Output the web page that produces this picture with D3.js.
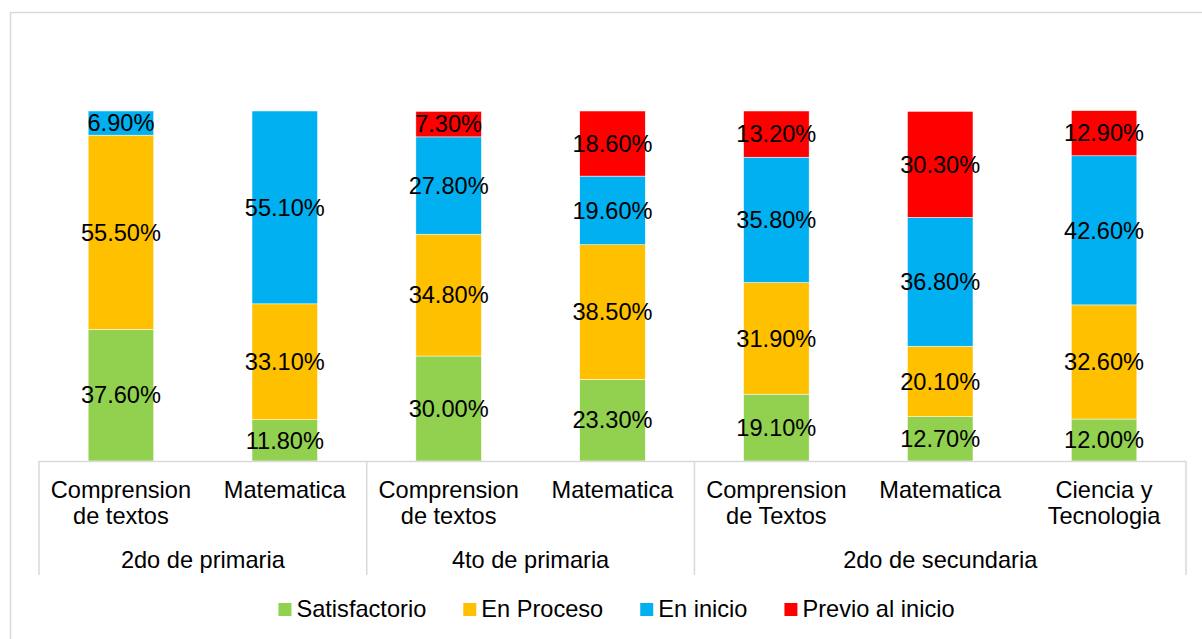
<!DOCTYPE html>
<html>
<head>
<meta charset="utf-8">
<script src="https://cdn.jsdelivr.net/npm/d3@7"></script>
<style>
  body { margin: 0; background: #fff; }
  text { font-family: "Liberation Sans", Arial, sans-serif; fill: #000; }
</style>
</head>
<body>
<div id="chart"></div>
<script>
// data
var groups = ["2do de primaria", "4to de primaria", "2do de secundaria"];
var groupSize = [2, 2, 3];
var categories = [
  ["Comprension", "de textos"],
  ["Matematica"],
  ["Comprension", "de textos"],
  ["Matematica"],
  ["Comprension", "de Textos"],
  ["Matematica"],
  ["Ciencia y", "Tecnologia"]
];
var seriesNames = ["Satisfactorio", "En Proceso", "En inicio", "Previo al inicio"];
var satisfactorio = [37.6, 11.8, 30.0, 23.3, 19.1, 12.7, 12.0];
var enProceso     = [55.5, 33.1, 34.8, 38.5, 31.9, 20.1, 32.6];
var enInicio      = [6.9, 55.1, 27.8, 19.6, 35.8, 36.8, 42.6];
var previo        = [0, 0, 7.3, 18.6, 13.2, 30.3, 12.9];
var colors = ["#92D050", "#FFC000", "#00B0F0", "#FF0000"];

var W = 1202, H = 639;
var fontSize = 23.6;

var svg = d3.select("#chart").append("svg")
  .attr("width", W)
  .attr("height", H);

// chart border
svg.append("rect")
  .attr("x", 10.5).attr("y", 12.5)
  .attr("width", 1210).attr("height", 660)
  .attr("fill", "none")
  .attr("stroke", "#d9d9d9")
  .attr("stroke-width", 1.5);

var plotLeft = 39, plotRight = 1186, plotTop = 111, plotBottom = 461;

var x = d3.scaleBand()
  .domain(d3.range(categories.length))
  .range([plotLeft, plotRight])
  .paddingInner(0.6)
  .paddingOuter(0.3);

var y = d3.scaleLinear()
  .domain([0, 100])
  .range([plotBottom, plotTop]);

// build rows for stacking
var rows = categories.map(function(c, i) {
  return { i: i, s0: satisfactorio[i], s1: enProceso[i], s2: enInicio[i], s3: previo[i] };
});
var stack = d3.stack().keys(["s0", "s1", "s2", "s3"]);
var layers = stack(rows);

var layer = svg.selectAll(".layer")
  .data(layers)
  .enter().append("g")
  .attr("class", "layer")
  .attr("fill", function(d, k) { return colors[k]; });

layer.selectAll("rect")
  .data(function(d) { return d.filter(function(p) { return p[1] - p[0] > 0; }); })
  .enter().append("rect")
  .attr("x", function(d) { return x(d.data.i); })
  .attr("width", x.bandwidth())
  .attr("y", function(d) { return y(d[1]); })
  .attr("height", function(d) { return y(d[0]) - y(d[1]); })
  .attr("stroke", "#fff")
  .attr("stroke-width", 0.5);

// data labels
var labels = svg.append("g").attr("class", "labels");
layers.forEach(function(s) {
  labels.selectAll(null)
    .data(s.filter(function(p) { return p[1] - p[0] > 0; }))
    .enter().append("text")
    .attr("x", function(d) { return x(d.data.i) + x.bandwidth() / 2; })
    .attr("y", function(d) { return (y(d[0]) + y(d[1])) / 2; })
    .attr("text-anchor", "middle")
    .attr("dy", "0.35em")
    .style("font-size", fontSize + "px")
    .text(function(d) { return (d[1] - d[0]).toFixed(2) + "%"; });
});

// x axis (multi-level)
var axis = svg.append("g").attr("class", "x axis");
axis.append("line")
  .attr("x1", plotLeft).attr("x2", plotRight)
  .attr("y1", plotBottom + 0.5).attr("y2", plotBottom + 0.5)
  .attr("stroke", "#d9d9d9").attr("stroke-width", 1.5);

var step = x.step();
var bounds = [0];
groupSize.forEach(function(n, g) { bounds.push(bounds[g] + n); });
bounds.forEach(function(b) {
  var xx = plotLeft + b * step;
  axis.append("line")
    .attr("x1", xx).attr("x2", xx)
    .attr("y1", plotBottom).attr("y2", 575)
    .attr("stroke", "#d9d9d9").attr("stroke-width", 1.5);
});

axis.selectAll(".cat")
  .data(categories)
  .enter().append("text")
  .attr("class", "cat")
  .attr("text-anchor", "middle")
  .style("font-size", fontSize + "px")
  .each(function(lines, i) {
    var t = d3.select(this);
    lines.forEach(function(l, j) {
      t.append("tspan")
        .attr("x", x(i) + x.bandwidth() / 2)
        .attr("y", 498 + j * 26)
        .text(l);
    });
  });

axis.selectAll(".grp")
  .data(groups)
  .enter().append("text")
  .attr("class", "grp")
  .attr("text-anchor", "middle")
  .style("font-size", fontSize + "px")
  .attr("x", function(d, g) { return plotLeft + (bounds[g] + bounds[g + 1]) / 2 * step; })
  .attr("y", 568)
  .text(function(d) { return d; });

// legend
var legend = svg.append("g").attr("class", "legend");
var items = legend.selectAll(".item")
  .data(seriesNames)
  .enter().append("g")
  .attr("class", "item");
items.append("rect")
  .attr("width", 13).attr("height", 13)
  .attr("y", 603)
  .attr("fill", function(d, k) { return colors[k]; });
items.append("text")
  .attr("y", 617)
  .style("font-size", fontSize + "px")
  .text(function(d) { return d; });

var pos = 0, offsets = [];
items.each(function() {
  var w = d3.select(this).select("text").node().getComputedTextLength();
  offsets.push(pos);
  pos += 18 + w + 37;
});
var total = pos - 37;
var start = 616.5 - total / 2;
items.each(function(d, k) {
  var g = d3.select(this);
  g.select("rect").attr("x", start + offsets[k]);
  g.select("text").attr("x", start + offsets[k] + 18);
});
</script>
</body>
</html>
